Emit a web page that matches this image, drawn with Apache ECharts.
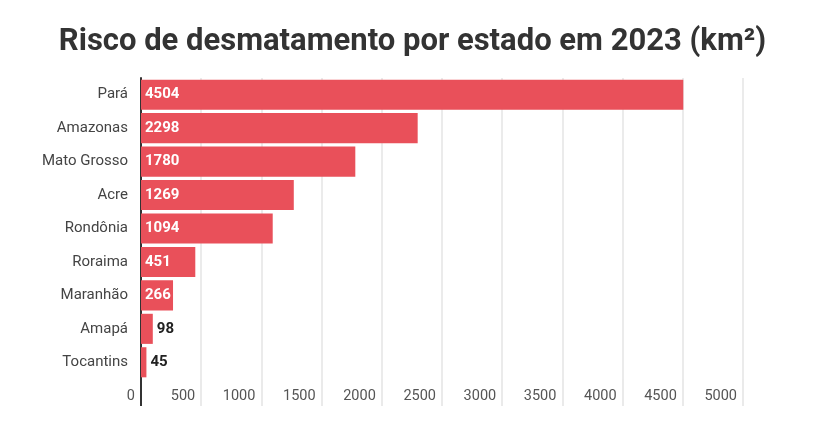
<!DOCTYPE html>
<html>
<head>
<meta charset="utf-8">
<script src="https://cdn.jsdelivr.net/npm/echarts@6/dist/echarts.min.js"></script>
<style>
html,body{margin:0;padding:0;background:#fff;}
#c{width:825px;height:432px;}
</style>
</head>
<body>
<div id="c"></div>
<script>
const categories = ['Pará','Amazonas','Mato Grosso','Acre','Rondônia','Roraima','Maranhão','Amapá','Tocantins'];
const values = [4504, 2298, 1780, 1269, 1094, 451, 266, 98, 45];
const outsideThreshold = 200;

const chart = echarts.init(document.getElementById('c'));
const data = values.map(v => {
  const outside = v < outsideThreshold;
  return {
    value: v,
    label: outside
      ? { position: 'right', color: '#222', distance: 4 }
      : { position: 'insideLeft', color: '#fff', distance: 4 }
  };
});

chart.setOption({
  backgroundColor: '#fff',
  animation: false,
  title: {
    text: 'Risco de desmatamento por estado em 2023 (km²)',
    left: 'center',
    top: 22,
    textStyle: { fontFamily: 'Roboto', fontSize: 31, fontWeight: 'bold', color: '#333' }
  },
  grid: { left: 141, right: 82, top: 78, bottom: 53, containLabel: false },
  xAxis: [{
    type: 'value',
    min: 0, max: 5000, interval: 500,
    axisLine: { show: false },
    axisTick: { show: true, length: 27, lineStyle: { color: '#e4e4e4', width: 1.5 } },
    splitLine: { show: true, lineStyle: { color: '#e4e4e4', width: 1.5 } },
    axisLabel: {
      align: 'right', padding: [0, 6, 0, 0], margin: 10,
      fontFamily: 'Roboto', fontSize: 14.5, color: '#555',
      formatter: v => String(v)
    }
  }, {
    type: 'value',
    position: 'bottom',
    min: 0, max: 5000,
    axisLine: { show: false },
    axisTick: { show: true, length: 27, customValues: [0], lineStyle: { color: '#333', width: 2 } },
    splitLine: { show: false },
    axisLabel: { show: false }
  }],
  yAxis: {
    type: 'category',
    inverse: true,
    data: categories,
    axisLine: { show: true, lineStyle: { color: '#333', width: 2 } },
    axisTick: { show: false },
    axisLabel: { margin: 13, fontFamily: 'Roboto', fontSize: 15, color: '#444' }
  },
  series: [{
    type: 'bar',
    data: data,
    barCategoryGap: '10%',
    itemStyle: { color: '#e9505a' },
    label: {
      show: true,
      fontFamily: 'Roboto', fontSize: 15, fontWeight: 'bold',
      formatter: p => String(p.value)
    }
  }]
});
</script>
</body>
</html>
